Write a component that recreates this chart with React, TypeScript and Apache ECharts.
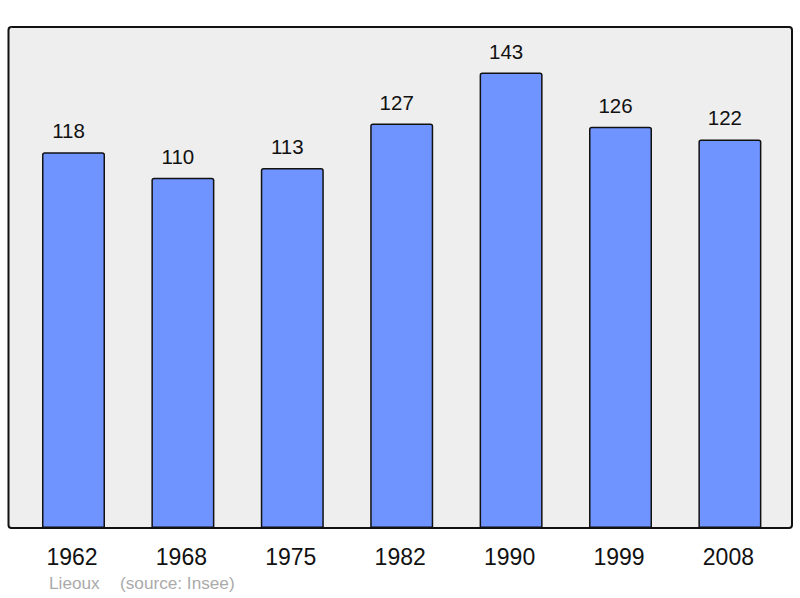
import React, { useEffect, useRef } from "react";
import * as echarts from "echarts";

const years = ["1962", "1968", "1975", "1982", "1990", "1999", "2008"];
const population = [118, 110, 113, 127, 143, 126, 122];
const townName = "Lieoux";
const sourceText = "(source: Insee)";

export default function App() {
  const ref = useRef<HTMLDivElement>(null);
  useEffect(() => {
    if (!ref.current) return;
    const chart = echarts.init(ref.current, null, { renderer: "svg" });
    chart.setOption({
      animation: false,
      backgroundColor: "#ffffff",
      grid: { left: 18.8, right: 15.4, top: 27, bottom: 70, containLabel: false },
      graphic: [
        {
          type: "rect",
          z: -10,
          shape: { x: 8.5, y: 27, width: 783.5, height: 501, r: 3 },
          style: { fill: "#eeeeee", stroke: "#111111", lineWidth: 2 },
        },
        {
          type: "text",
          x: 49,
          y: 583,
          style: {
            text: townName,
            fill: "#aaaaaa",
            font: "17.2px 'Liberation Sans', Arial, sans-serif",
            textVerticalAlign: "middle",
          },
        },
        {
          type: "text",
          x: 120,
          y: 583,
          style: {
            text: sourceText,
            fill: "#aaaaaa",
            font: "17.2px 'Liberation Sans', Arial, sans-serif",
            textVerticalAlign: "middle",
          },
        },
      ],
      xAxis: {
        type: "category",
        data: years,
        axisLine: { show: false },
        axisTick: { show: false },
        axisLabel: {
          margin: 17,
          fontSize: 23,
          color: "#111111",
          padding: [0, 3, 0, 0],
          fontFamily: "'Liberation Sans', Arial, sans-serif",
        },
      },
      yAxis: {
        type: "value",
        min: 0,
        max: 157.3,
        show: false,
        splitLine: { show: false },
      },
      series: [
        {
          type: "bar",
          data: population,
          barWidth: 63,
          itemStyle: {
            color: "#7094ff",
            borderColor: "#111111",
            borderWidth: 1.5,
            borderRadius: [2, 2, 0, 0],
          },
          label: {
            show: true,
            position: "top",
            distance: 11,
            offset: [-5, 0],
            fontSize: 20.5,
            color: "#111111",
            fontFamily: "'Liberation Sans', Arial, sans-serif",
          },
        },
      ],
    });
    return () => chart.dispose();
  }, []);
  return <div ref={ref} style={{ position: "fixed", left: 0, top: 0, width: 800, height: 598 }} />;
}
